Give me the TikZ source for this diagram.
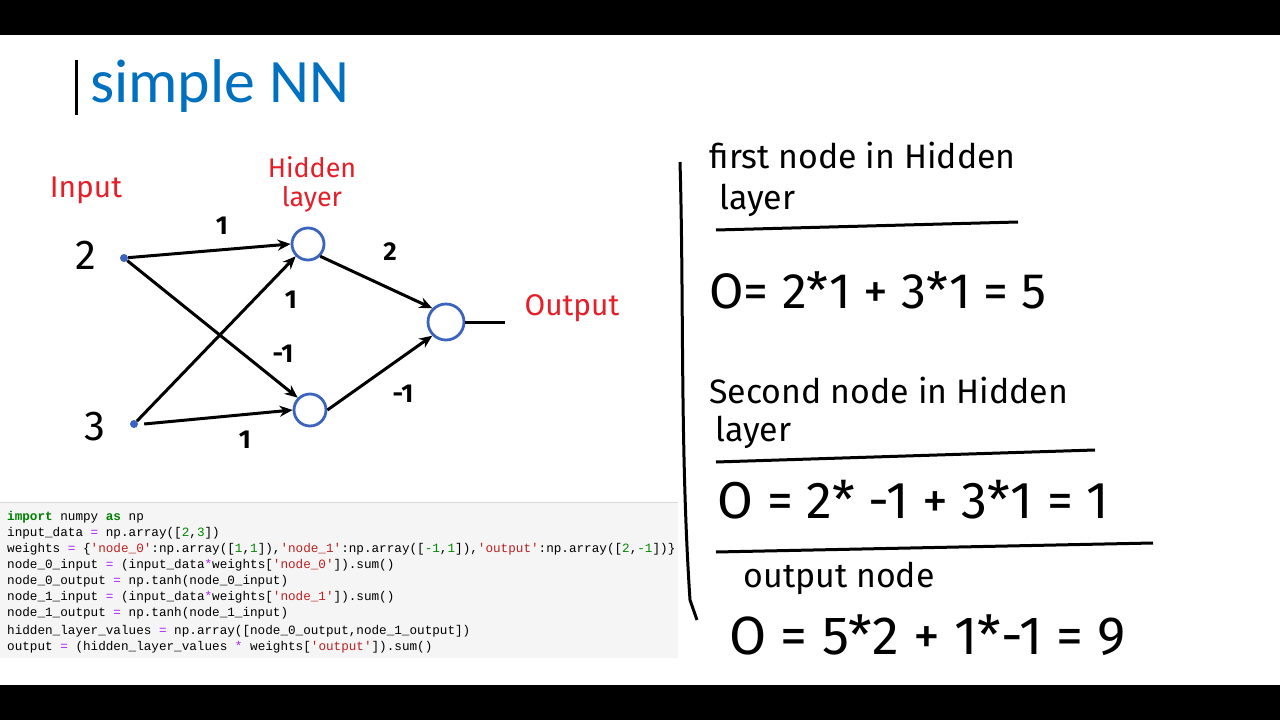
\documentclass[tikz,border=0pt]{standalone}
\usepackage{fontspec}
\setmainfont{Carlito}
\newfontfamily\codefont{Liberation Mono}
\newfontfamily\handfont{Fira Sans}
\usetikzlibrary{arrows.meta}
\definecolor{titleblue}{RGB}{0,112,192}
\definecolor{nodeblue}{RGB}{60,100,190}
\definecolor{hred}{RGB}{230,30,40}
\definecolor{kw}{RGB}{0,128,0}
\definecolor{str}{RGB}{186,33,33}
\definecolor{num}{RGB}{0,136,0}
\definecolor{op}{RGB}{170,34,255}
\tikzset{
 hid/.style={circle,draw=nodeblue,line width=2.8bp,minimum size=32bp,inner sep=0},
 dot/.style={circle,fill=nodeblue,minimum size=8bp,inner sep=0},
 edge/.style={line width=3bp,-{Stealth[length=13bp,width=11bp]}},
 wlab/.style={font=\handfont\fontsize{26}{26}\selectfont\bfseries},
 rlab/.style={font=\handfont\fontsize{30}{30}\selectfont,text=hred},
 hand/.style={font=\handfont\fontsize{34}{34}\selectfont,anchor=west},
 eq/.style={font=\handfont\fontsize{50}{50}\selectfont,anchor=west},
 code/.style={font=\codefont\fontsize{12.7}{16}\selectfont,anchor=west,inner sep=0},
 ul/.style={line width=3bp}
}
\begin{document}
\begin{tikzpicture}[x=1bp,y=-1bp]
\useasboundingbox (0,0) rectangle (1280,720);
\fill[white] (0,0) rectangle (1280,720);
\fill[black] (0,0) rectangle (1280,35);
\fill[black] (0,685) rectangle (1280,720);
% title
\draw[line width=3bp] (76,60) -- (76,115);
\node[anchor=west,text=titleblue,font=\fontsize{62}{62}\selectfont,inner sep=0] (title) at (90,86) {simple NN};
% network
\node[dot] (i0) at (124,258) {};
\node[dot] (i1) at (134,424) {};
\node[hid] (h0) at (308,244) {};
\node[hid] (h1) at (310,410) {};
\node[hid,minimum size=36bp] (o) at (446,322) {};
\coordinate (oend) at (505,322);
\node[font=\handfont\fontsize{42}{42}\selectfont] (n2) at (86,255) {2};
\node[font=\handfont\fontsize{42}{42}\selectfont] (n3) at (95,427) {3};
\node[rlab] (lin) at (86,190) {Input};
\node[rlab,align=center,font=\handfont\fontsize{27}{29}\selectfont,inner sep=0] (lhid) at (312,184) {Hidden\\layer};
\node[rlab] (lout) at (572,308) {Output};
\draw[edge] (i0) -- (h0.west);
\draw[edge] (i0) -- (h1.north west);
\draw[edge] (i1.north east) -- (h0.south west);
\draw[edge] ([xshift=6bp]i1.east) -- (h1.west);
\draw[edge] (h0.south east) -- (o.north west);
\draw[edge] (h1.east) -- (o.south west);
\draw[line width=3bp] (o.east) -- (oend);
\node[wlab] (w1) at (222,226) {1};
\node[wlab] (w2) at (291,300) {1};
\node[wlab] (w3) at (283,354) {-1};
\node[wlab] (w4) at (245,440) {1};
\node[wlab] (w5) at (390,252) {2};
\node[wlab] (w6) at (403,394) {-1};
% code
\fill[black!4] (0,502) rectangle (678,658);
\draw[black!15] (0,502) -- (678,502);
\node[code] (c1) at (7,517) {\textcolor{kw}{\bfseries import} numpy \textcolor{kw}{\bfseries as} np};
\node[code] (c2) at (7,533) {input\_data \textcolor{op}{=} np.array([\textcolor{num}{2},\textcolor{num}{3}])};
\node[code] (c3) at (7,549) {weights \textcolor{op}{=} \{\textcolor{str}{'node\_0'}:np.array([\textcolor{num}{1},\textcolor{num}{1}]),\textcolor{str}{'node\_1'}:np.array([\textcolor{num}{-1},\textcolor{num}{1}]),\textcolor{str}{'output'}:np.array([\textcolor{num}{2},\textcolor{num}{-1}])\}};
\node[code] (c4) at (7,565) {node\_0\_input \textcolor{op}{=} (input\_data\textcolor{op}{*}weights[\textcolor{str}{'node\_0'}]).sum()};
\node[code] (c5) at (7,581) {node\_0\_output \textcolor{op}{=} np.tanh(node\_0\_input)};
\node[code] (c6) at (7,597) {node\_1\_input \textcolor{op}{=} (input\_data\textcolor{op}{*}weights[\textcolor{str}{'node\_1'}]).sum()};
\node[code] (c7) at (7,613) {node\_1\_output \textcolor{op}{=} np.tanh(node\_1\_input)};
\node[code] (c8) at (7,631) {hidden\_layer\_values \textcolor{op}{=} np.array([node\_0\_output,node\_1\_output])};
\node[code] (c9) at (7,647) {output \textcolor{op}{=} (hidden\_layer\_values \textcolor{op}{*} weights[\textcolor{str}{'output'}]).sum()};
% right side
\draw[line width=3bp] (680,162) .. controls (684,300) and (680,450) .. (690,600) -- (697,620);
\node[hand] (t1) at (706,155) {first node in Hidden};
\node[hand] (t2) at (716,200) {layer};
\draw[ul] (716,230) -- (1018,222);
\node[eq] (e1) at (706,290) {O= 2*1 + 3*1 = 5};
\node[hand] (t3) at (706,390) {Second node in Hidden};
\node[hand] (t4) at (712,432) {layer};
\draw[ul] (716,462) -- (1095,450);
\node[eq,font=\handfont\fontsize{52}{52}\selectfont] (e2) at (714,500) {O = 2* -1 + 3*1 = 1};
\draw[ul] (716,552) -- (1153,543);
\node[hand] (t5) at (740,578) {output node};
\node[eq,font=\handfont\fontsize{54}{54}\selectfont] (e3) at (726,635) {O = 5*2 + 1*-1 = 9};
\end{tikzpicture}
\end{document}
